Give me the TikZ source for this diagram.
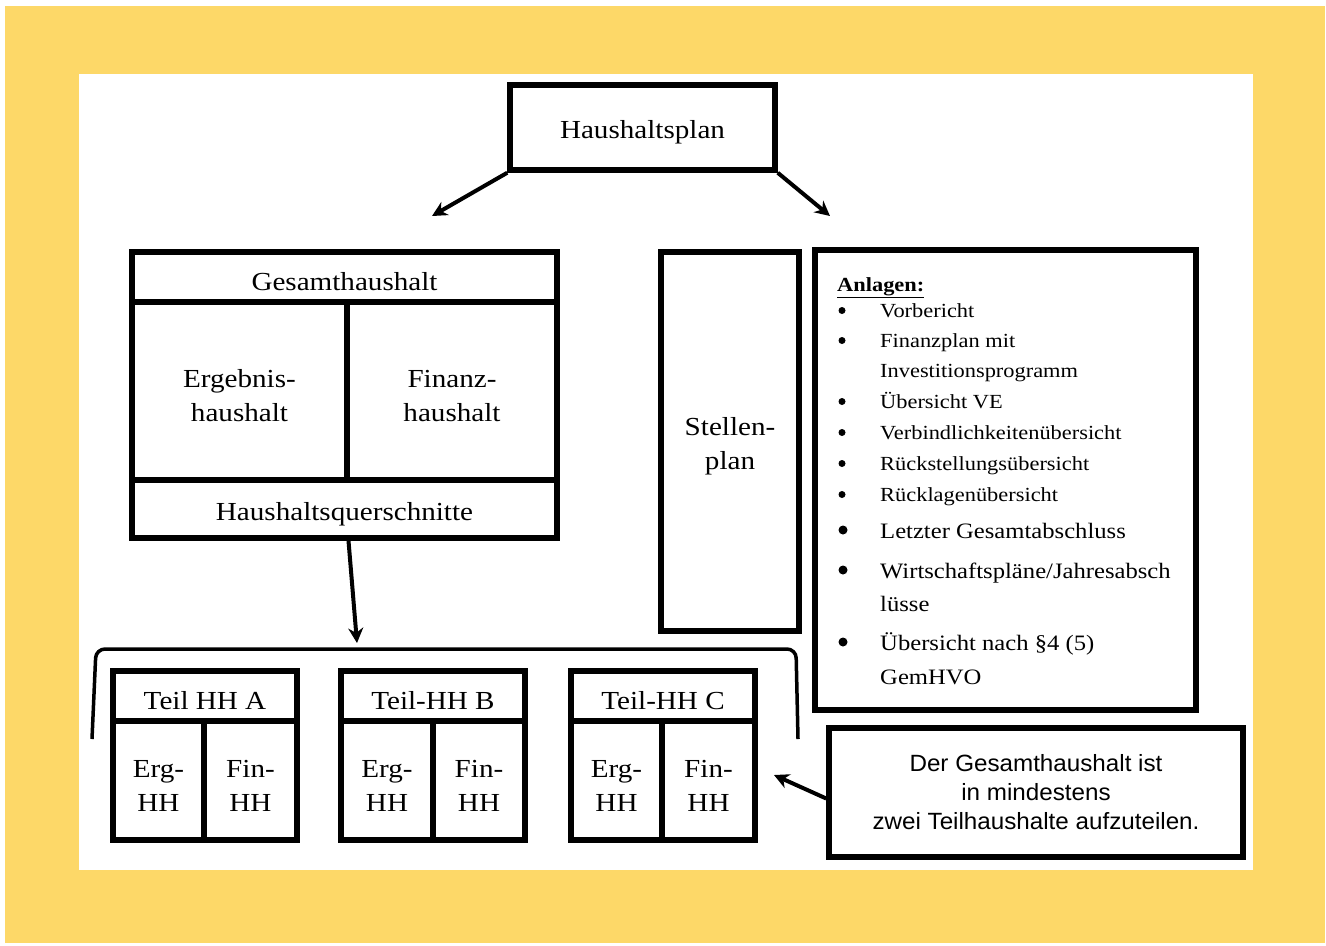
\documentclass[tikz,border=0pt]{standalone}
\usepackage{fontspec}
\setmainfont{Liberation Serif}[FakeStretch=1.12]
\newfontfamily\notefont{Liberation Sans}[FakeStretch=1.03]
\usetikzlibrary{arrows.meta}
\definecolor{bgyellow}{RGB}{253,216,104}
\newcommand\fbig{\fontsize{26bp}{34bp}\selectfont}
\newcommand\fsmall{\fontsize{20bp}{24bp}\selectfont}
\newcommand\fmid{\fontsize{22bp}{26bp}\selectfont}
\newcommand\fnote{\fontsize{23.5bp}{29bp}\selectfont}
\tikzset{
  cell/.style={draw, line width=5.5bp, inner sep=0pt},
  txt/.style={font=\fbig, align=center, inner sep=0pt, yshift=-5bp},
  arr/.style={line width=4bp, -{Stealth[length=15bp, width=15bp]}},
  bracketline/.style={line width=3.5bp, rounded corners=9bp},
  item/.style={anchor=base west, inner sep=0pt},
  bul/.style={circle, fill, inner sep=0pt, minimum size=#1},
  bul/.default=7bp
}
\begin{document}
\begin{tikzpicture}[x=1bp, y=-1bp]
\useasboundingbox (0,0) rectangle (1326,945);
\fill[white] (0,0) rectangle (1326,945);
\fill[bgyellow] (5,6) rectangle (1325,943);
\fill[white] (79,74) rectangle (1253,870);

% top
\node[cell, minimum width=265bp, minimum height=85bp, label={[txt]center:Haushaltsplan}] (hp) at (642.5,127.5) {};
\coordinate (tl) at (432,216);
\coordinate (tr) at (830,216);
\draw[arr] (hp.south west) -- (tl);
\draw[arr] (hp.south east) -- (tr);

% Gesamthaushalt block
\node[cell, minimum width=425bp, minimum height=50bp, label={[txt]center:Gesamthaushalt}] (gh) at (344.5,277) {};
\node[cell, minimum width=215bp, minimum height=178bp, label={[txt]center:{Ergebnis-\\haushalt}}] (erg) at (239.5,391) {};
\node[cell, minimum width=210bp, minimum height=178bp, label={[txt]center:{Finanz-\\haushalt}}] (fin) at (452,391) {};
\node[cell, minimum width=425bp, minimum height=58bp, label={[txt]center:Haushaltsquerschnitte}] (hq) at (344.5,509) {};

% Stellenplan
\node[cell, minimum width=138bp, minimum height=379bp, label={[txt]center:{Stellen-\\plan}}] (sp) at (730,441.5) {};

% Anlagen
\node[cell, minimum width=381bp, minimum height=460bp] (an) at (1005.5,480) {};
\node[item, font=\fsmall\bfseries] (ah) at (837,291) {\underline{Anlagen:}};
\foreach \i/\y/\t in {1/317/Vorbericht, 2/347/Finanzplan mit, 4/408/Übersicht VE,
  5/439/Verbindlichkeitenübersicht, 6/470/Rückstellungsübersicht, 7/501/Rücklagenübersicht}{
  \node[bul] (b\i) at (842,\y-6.5) {};
  \node[item, font=\fsmall] (a\i) at (880,\y) {\t};
}
\node[item, font=\fsmall] (a3) at (880,377) {Investitionsprogramm};
\foreach \i/\y/\t in {8/538/Letzter Gesamtabschluss, 9/578/{Wirtschaftspläne/Jahresabsch}, 11/650/Übersicht nach §4 (5)}{
  \node[bul=9bp] (b\i) at (843,\y-8) {};
  \node[item, font=\fmid] (a\i) at (880,\y) {\t};
}
\node[item, font=\fmid] (a10) at (880,611) {lüsse};
\node[item, font=\fmid] (a12) at (880,684) {GemHVO};

% arrow to bracket
\coordinate (bt) at (357,643);
\draw[arr] ([xshift=4bp]hq.south) -- (bt);
\draw[bracketline] (92,739) -- (96,649) -- (796,649) -- (798,739);

% Teil boxes
\foreach \n/\x/\d/\t in {A/113/204/Teil HH A, B/341/433/Teil-HH B, C/571/662/Teil-HH C}{
  \node[cell, minimum width=184bp, minimum height=50bp, label={[txt]center:\t}] (t\n) at (\x+92,696) {};
  \node[cell, minimum width=\d-\x, minimum height=119bp, label={[txt]center:{Erg-\\HH}}] (e\n) at ({(\x+\d)/2},780.5) {};
  \node[cell, minimum width=\x+184-\d, minimum height=119bp, label={[txt]center:{Fin-\\HH}}] (f\n) at ({(\d+\x+184)/2},780.5) {};
}

% note
\node[cell, font=\notefont\fnote, align=center, minimum width=414bp, minimum height=129bp] (note) at (1036,792.5)
  {Der Gesamthaushalt ist\\in mindestens\\ zwei Teilhaushalte aufzuteilen.};
\coordinate (nt) at (774,775);
\draw[arr] ([yshift=-6bp]note.west) -- (nt);
\end{tikzpicture}
\end{document}
